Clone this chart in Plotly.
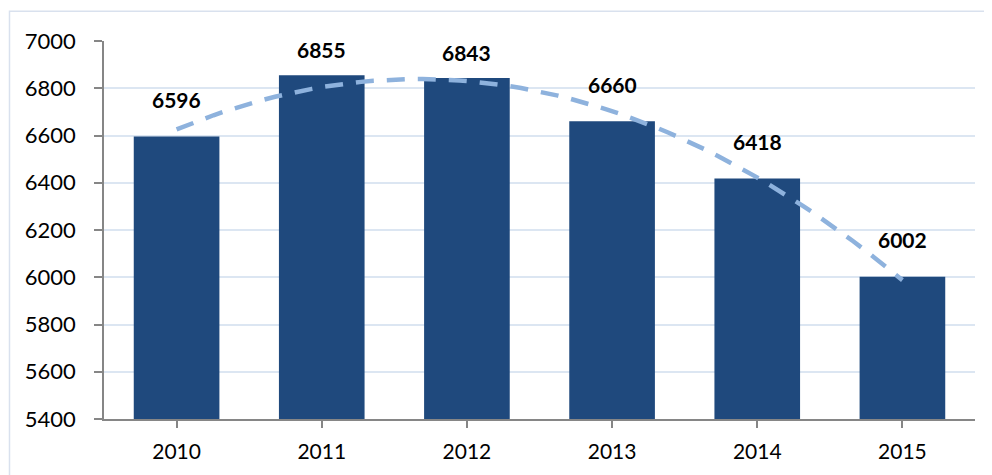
import numpy as np
import plotly.graph_objects as go

years = ["2010", "2011", "2012", "2013", "2014", "2015"]
values = [6596, 6855, 6843, 6660, 6418, 6002]
y_ticks = [5400, 5600, 5800, 6000, 6200, 6400, 6600, 6800, 7000]
# vertical offset (px) of each value label above its bar
label_shift = [37, 26, 26, 37, 37, 37]

# Polynomial (order 2) trendline, as in the spreadsheet chart
idx = np.arange(len(values))
coef = np.polyfit(idx, values, 2)
xs = np.linspace(0, len(values) - 1, 60)
trend = np.polyval(coef, xs)

fig = go.Figure()
fig.add_trace(go.Bar(
    x=idx, y=values, marker_color="#1F497D", marker_line_width=0,
    textposition="none", showlegend=False,
))
fig.add_trace(go.Scatter(
    x=xs, y=trend, mode="lines",
    line=dict(color="#8EB2DD", width=4.5, dash="18px,13px"), showlegend=False,
))
for i, v in enumerate(values):
    fig.add_annotation(x=i, y=v, text="<b>%d</b>" % v, showarrow=False,
                       yshift=label_shift[i],
                       font=dict(size=21, color="#000000", family="Lato"))

# page body has an 8px margin; figure sized/offset to compensate
fig.update_layout(
    width=984, height=467,
    margin=dict(l=96, r=17, t=33, b=56),
    paper_bgcolor="white", plot_bgcolor="white",
    bargap=0.41,
    font=dict(family="Lato", color="#000000"),
    shapes=[dict(type="rect", xref="paper", yref="paper",
                 x0=-0.1085, x1=1.05, y0=-0.3, y1=1.079,
                 line=dict(color="#D9E1EE", width=1.5), layer="below")],
)
fig.update_xaxes(
    range=[-0.5, 5.5], tickmode="array", tickvals=list(idx), ticktext=years,
    showline=True, linecolor="#868686", linewidth=1.5,
    ticks="outside", ticklen=7, tickcolor="#868686", tickwidth=1.5,
    tickson="boundaries", showgrid=False, tickfont=dict(size=21), zeroline=False,
    ticklabelstandoff=6,
)
fig.update_yaxes(
    range=[5400, 7000], tickvals=y_ticks,
    showline=True, linecolor="#868686", linewidth=1.5,
    ticks="outside", ticklen=8, tickcolor="#868686", tickwidth=1.5,
    showgrid=True, gridcolor="#DCE6F2", gridwidth=1.5,
    tickfont=dict(size=22), zeroline=False,
    ticklabelstandoff=14,
)
fig.write_html("out.html")
